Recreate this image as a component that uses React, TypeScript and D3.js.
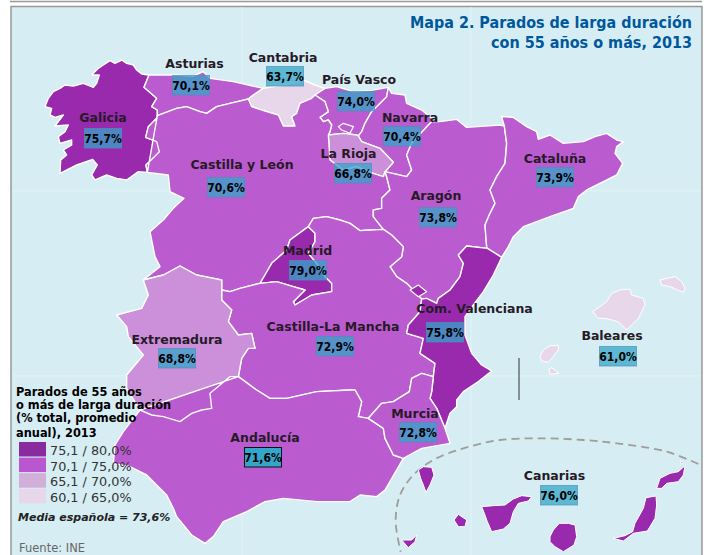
import React from "react";
import * as d3 from "d3";

// values (% parados de larga duración, 55+, 2013)
const regions = ["Galicia", "Asturias", "Cantabria", "País Vasco", "Navarra", "La Rioja", "Castilla y León", "Aragón", "Cataluña", "Madrid", "Castilla-La Mancha", "Extremadura", "Andalucía", "Com. Valenciana", "Murcia", "Baleares", "Canarias"];
const values = [75.7, 70.1, 63.7, 74.0, 70.4, 66.8, 70.6, 73.8, 73.9, 79.0, 72.9, 68.8, 71.6, 75.8, 72.8, 61.0, 76.0];
const legendLabels = ["75,1 / 80,0%", "70,1 / 75,0%", "65,1 / 70,0%", "60,1 / 65,0%"];
const legendTitle = ["Parados de 55 años", "o más de larga duración", "(% total, promedio", "anual), 2013"];

// outlines, in 1/3 px map units, shared borders kept as arcs
type Pt = [number, number];
const arcs: Record<string, Pt[]> = {
  galCoast: [[447,225],[425,222],[410,210],[400,195],[380,190],[365,180],[345,190],[330,182],[310,195],[295,205],[275,225],[298,225],[290,250],[280,262],[250,250],[220,258],[195,255],[180,265],[160,275],[145,295],[135,320],[155,325],[150,345],[165,352],[190,345],[175,365],[165,378],[205,375],[195,395],[175,410],[180,430],[215,420],[215,435],[190,450],[200,465],[182,480],[180,520],[230,495],[278,478],[292,495],[275,525],[285,540],[320,525],[350,535],[380,540],[415,515],[442,517]],
  galCyl: [[442,517],[438,495],[478,455],[470,425],[437,412],[445,380],[470,355],[472,347]],
  galAst: [[472,347],[472,330],[455,320],[470,295],[432,262],[447,225]],
  astCoast: [[447,225],[520,225],[580,228],[610,215],[630,235],[700,245],[790,265]],
  astCant: [[790,265],[760,285],[745,297]],
  astCyl: [[472,347],[530,325],[560,320],[600,335],[620,340],[650,320],[690,310],[745,297]],
  cantCoast: [[790,265],[850,255],[910,240],[945,255],[975,265]],
  cantPv: [[975,265],[945,285]],
  cantCyl: [[745,297],[755,320],[800,335],[835,345],[850,378],[885,378],[875,350],[890,340],[900,310],[935,295],[945,285]],
  pvCoast: [[975,265],[1010,260],[1060,275],[1110,272],[1165,262]],
  pvNav: [[1165,262],[1160,290],[1115,335],[1095,370],[1085,395],[1075,408]],
  pvCyl: [[945,285],[975,305],[985,335],[960,352],[970,365],[985,360],[995,375],[990,395],[985,405]],
  pvRio: [[985,405],[1030,400],[1070,405],[1075,408]],
  navNorth: [[1165,262],[1175,280],[1215,285],[1220,310],[1265,330],[1295,355],[1295,365]],
  navAra: [[1295,365],[1285,375],[1235,430],[1220,465],[1235,510],[1220,530],[1155,515]],
  navRio: [[1155,515],[1180,487],[1140,445],[1085,425],[1075,408]],
  rioCyl: [[1155,515],[1150,530],[1120,520],[1070,500],[1030,510],[990,480],[985,405]],
  araNorth: [[1295,365],[1320,365],[1370,358],[1400,382],[1500,375],[1513,378]],
  araCat: [[1513,378],[1520,430],[1515,490],[1490,530],[1470,570],[1485,610],[1470,640],[1455,675],[1460,740],[1462,745]],
  catCoast: [[1513,378],[1505,350],[1540,352],[1580,380],[1610,395],[1615,418],[1650,405],[1690,430],[1750,425],[1785,410],[1820,400],[1850,420],[1870,425],[1850,440],[1845,460],[1868,490],[1850,525],[1810,545],[1760,570],[1735,590],[1720,625],[1650,650],[1570,680],[1540,710],[1525,740],[1505,772]],
  catVal: [[1462,745],[1505,772]],
  araVal: [[1462,745],[1400,738],[1375,765],[1390,790],[1380,830],[1350,870],[1315,895],[1310,910],[1280,895],[1265,897]],
  araClm: [[1150,688],[1175,705],[1210,740],[1205,770],[1170,800],[1190,830],[1220,850],[1265,897]],
  araCyl: [[1155,515],[1160,530],[1170,570],[1145,595],[1145,625],[1120,630],[1120,650],[1150,688]],
  cylClm: [[1150,688],[1110,690],[1080,692],[1050,670],[1020,660],[980,650],[940,655],[925,680]],
  madClm: [[925,680],[945,700],[945,725],[925,760],[950,790],[975,830],[995,850],[995,875],[935,885],[885,915],[880,905],[915,870],[880,860],[830,845],[780,850]],
  madCyl: [[780,850],[795,825],[815,790],[860,750],[870,720],[925,680]],
  cylClmLow: [[780,850],[720,865],[690,875],[665,870]],
  cylWest: [[442,517],[505,525],[510,575],[552,595],[520,625],[490,660],[450,695],[465,770],[480,800],[430,840]],
  cylExt: [[430,840],[490,825],[540,798],[590,825],[630,833],[665,840],[665,870]],
  extClm: [[665,870],[665,900],[695,930],[685,965],[715,1005],[755,1000],[765,1045],[745,1045],[725,1075],[715,1130]],
  extWest: [[430,840],[445,885],[425,925],[350,945],[380,980],[385,1010],[430,1065],[380,1125],[380,1165],[420,1230]],
  extAnd: [[420,1230],[455,1245],[490,1250],[540,1265],[575,1240],[605,1230],[635,1225],[630,1180],[690,1130],[715,1130]],
  clmAnd: [[715,1130],[770,1170],[810,1195],[860,1195],[950,1175],[1050,1170],[1065,1170],[1085,1205],[1075,1250],[1105,1255]],
  clmMur: [[1105,1255],[1145,1210],[1180,1205],[1228,1175],[1235,1135],[1265,1120],[1300,1130]],
  clmVal: [[1265,897],[1260,935],[1225,975],[1220,1000],[1270,1015],[1260,1060],[1305,1090],[1300,1130]],
  valMur: [[1300,1130],[1295,1175],[1290,1195],[1310,1225],[1335,1285]],
  valCoast: [[1505,772],[1480,825],[1450,875],[1420,915],[1395,950],[1395,1005],[1415,1060],[1445,1095],[1475,1113],[1435,1145],[1390,1175],[1370,1200],[1370,1220],[1350,1240],[1335,1285]],
  murCoast: [[1335,1285],[1350,1330],[1265,1345],[1210,1375]],
  murAnd: [[1105,1255],[1150,1285],[1155,1315],[1180,1365],[1210,1375]],
  andCoast: [[420,1230],[370,1295],[345,1335],[340,1390],[390,1400],[440,1425],[500,1485],[520,1525],[530,1550],[575,1605],[615,1630],[640,1610],[670,1565],[740,1535],[795,1505],[850,1495],[950,1505],[1050,1505],[1080,1485],[1130,1490],[1155,1470],[1210,1375]],
};

// "-" means the arc is walked backwards
const ringsByRegion: Record<string, string[]> = {
  "Galicia": ["galCoast", "galCyl", "galAst"],
  "Asturias": ["astCoast", "astCant", "-astCyl", "galAst"],
  "Cantabria": ["cantCoast", "cantPv", "-cantCyl", "-astCant"],
  "País Vasco": ["pvCoast", "pvNav", "-pvRio", "-pvCyl", "-cantPv"],
  "Navarra": ["navNorth", "navAra", "navRio", "-pvNav"],
  "La Rioja": ["rioCyl", "pvRio", "-navRio"],
  "Castilla y León": ["cylWest", "cylExt", "-cylClmLow", "madCyl", "-cylClm", "-araCyl", "rioCyl", "-pvCyl", "-cantCyl", "-astCyl", "galCyl"],
  "Aragón": ["araNorth", "araCat", "araVal", "-araClm", "-araCyl", "-navAra"],
  "Cataluña": ["catCoast", "-catVal", "-araCat"],
  "Madrid": ["madClm", "madCyl"],
  "Castilla-La Mancha": ["-cylClm", "araClm", "clmVal", "-clmMur", "-clmAnd", "-extClm", "-cylClmLow", "-madClm"],
  "Extremadura": ["cylExt", "extClm", "-extAnd", "-extWest"],
  "Andalucía": ["-extAnd", "clmAnd", "murAnd", "-andCoast"],
  "Com. Valenciana": ["catVal", "valCoast", "-valMur", "-clmVal", "-araVal"],
  "Murcia": ["clmMur", "valMur", "murCoast", "-murAnd"],
};

const enclaves: { region: string; pts: Pt[] }[] = [
  { region: "Castilla y León", pts: [[1015,380],[1030,370],[1060,380],[1050,400],[1025,390]] }, // Treviño
  { region: "Com. Valenciana", pts: [[1230,870],[1255,855],[1280,875],[1255,890]] }, // Ademuz
];

// islands, traced with their own origin (shifted by islandOrigin)
const islandOrigin: Pt = [1050, 825];
const islands: { region: string; pts: Pt[] }[] = [
  { region: "Baleares", pts: [[728,110],[750,95],[770,80],[785,55],[810,45],[840,42],[845,60],[880,70],[885,90],[865,130],[830,165],[805,140],[765,130],[745,130]] },
  { region: "Baleares", pts: [[930,15],[975,5],[995,20],[1005,40],[1000,52],[960,35],[935,30]] },
  { region: "Baleares", pts: [[570,245],[580,225],[600,212],[625,212],[625,225],[605,250],[595,262],[575,258]] },
  { region: "Baleares", pts: [[597,282],[605,278],[627,295],[600,298]] },
  { region: "Canarias", pts: [[205,585],[220,575],[245,577],[252,600],[240,630],[228,652],[220,630],[212,610]] },
  { region: "Canarias", pts: [[312,735],[325,718],[350,735],[345,755],[325,755]] },
  { region: "Canarias", pts: [[155,795],[185,795],[200,780],[195,800],[175,818]] },
  { region: "Canarias", pts: [[395,695],[430,692],[465,690],[490,672],[515,662],[545,665],[535,678],[505,685],[490,710],[480,745],[460,762],[425,770],[412,740],[403,715]] },
  { region: "Canarias", pts: [[600,785],[610,765],[628,745],[655,745],[675,750],[680,785],[672,810],[640,830],[615,815],[600,800]] },
  { region: "Canarias", pts: [[790,790],[825,782],[848,770],[855,745],[880,700],[888,668],[918,663],[920,690],[915,730],[892,768],[850,775],[820,798]] },
  { region: "Canarias", pts: [[920,640],[930,610],[960,595],[985,590],[1005,572],[1000,600],[985,620],[950,625],[935,640]] },
  { region: "Canarias", pts: [[990,560],[997,560],[995,568]] },
];

const canaryArc: Pt[] = [[2095,1392],[2000,1355],[1850,1330],[1750,1320],[1630,1315],[1500,1320],[1390,1345],[1300,1380],[1240,1425],[1200,1485],[1187,1565],[1202,1655]];

// label anchors in page px
const labelPos: Record<string, Pt> = {
  "Galicia": [103,122], "Asturias": [194.5,68], "Cantabria": [283,62], "País Vasco": [359,84], "Navarra": [410,122],
  "La Rioja": [348.5,158], "Castilla y León": [242,169], "Aragón": [436,200], "Cataluña": [555,163], "Madrid": [307.5,255],
  "Castilla-La Mancha": [333,331], "Extremadura": [177,344], "Andalucía": [265,442], "Com. Valenciana": [474.5,313],
  "Murcia": [415,418], "Baleares": [612,340], "Canarias": [554.5,480],
};
const boxPos: Record<string, Pt> = {
  "Galicia": [84,128], "Asturias": [172,75], "Cantabria": [266,66], "País Vasco": [337,91], "Navarra": [383,126],
  "La Rioja": [334,163], "Castilla y León": [207,177], "Aragón": [419,207], "Cataluña": [536,167], "Madrid": [289,260],
  "Castilla-La Mancha": [316,336], "Extremadura": [158,348], "Andalucía": [244,447], "Com. Valenciana": [426,322],
  "Murcia": [399,422], "Baleares": [599,346], "Canarias": [540,485],
};

const color = d3.scaleThreshold<number, string>().domain([65, 70, 75]).range(["#e8d7ea", "#cb90d9", "#bb5bd0", "#992aad"]);
const legendColors = ["#8a2a9f", "#b857cf", "#d1afd9", "#e8d7ea"];

const walk = (name: string): Pt[] => name.startsWith("-") ? [...arcs[name.slice(1)]].reverse() : arcs[name];
const pathGen = d3.geoPath(d3.geoIdentity().scale(1 / 3) as any);
const polygon = (pts: Pt[]) => pathGen({ type: "Polygon", coordinates: [[...pts, pts[0]]] } as any) as string;
const shifted = (pts: Pt[]): Pt[] => pts.map(([x, y]) => [x + islandOrigin[0], y + islandOrigin[1]]);
const valueOf = (r: string) => values[regions.indexOf(r)];
const fmt = (v: number) => v.toFixed(1).replace(".", ",") + "%";

const arcLine = d3.line<Pt>().x(d => d[0] / 3).y(d => d[1] / 3).curve(d3.curveCatmullRom);
const font = "'DejaVu Sans', sans-serif";

export default function App() {
  return (
    <svg width={705} height={555} style={{ position: "absolute", left: 0, top: 0, background: "#fff" }} fontFamily={font}>
      <line x1={10} x2={702} y1={1.5} y2={1.5} stroke="#999" strokeWidth={1.5} />
      <rect x={11} y={6.5} width={691} height={560} fill="#d7edf4" stroke="#999" strokeWidth={1.5} />
      {/* faint graticule */}
      {[242, 471].map(x => <line key={x} x1={x} x2={x} y1={7} y2={555} stroke="#e0f2f6" />)}
      {[191, 376].map(y => <line key={y} x1={12} x2={701} y1={y} y2={y} stroke="#e0f2f6" />)}

      <path d={arcLine(canaryArc) as string} fill="none" stroke="#a09c98" strokeWidth={1.8} strokeDasharray="8 5" />

      {Object.entries(ringsByRegion).map(([r, parts]) => (
        <path key={r} d={polygon(parts.flatMap(walk))} fill={color(valueOf(r))} stroke="#fff" strokeWidth={1.4} strokeLinejoin="round" />
      ))}
      {enclaves.map((s, i) => (
        <path key={i} d={polygon(s.pts)} fill={color(valueOf(s.region))} stroke="#fff" strokeWidth={1.2} strokeLinejoin="round" />
      ))}
      {islands.map((s, i) => (
        <path key={i} d={polygon(shifted(s.pts))} fill={color(valueOf(s.region))} stroke="#fff" strokeWidth={1} strokeLinejoin="round" />
      ))}

      <line x1={519} x2={519} y1={358} y2={400} stroke="#333" strokeWidth={1} />

      {regions.map(r => {
        const [bx, by] = boxPos[r];
        const [lx, ly] = labelPos[r];
        const selected = r === "Andalucía";
        return (
          <g key={r}>
            <rect x={bx + 0.5} y={by + 0.5} width={37} height={19.5} fill="#34a6c9" fillOpacity={selected ? 1 : 0.75}
              stroke={selected ? "#111" : "#4f8fb8"} strokeOpacity={selected ? 1 : 0.7} />
            <text x={bx + 19} y={by + 14.5} textAnchor="middle" fontSize={12} fontWeight="bold" fontStretch="condensed" fill="#000">{fmt(valueOf(r))}</text>
            <text x={lx} y={ly} textAnchor="middle" fontSize={12.5} fontWeight="bold" fill="#261a26">{r}</text>
          </g>
        );
      })}

      <g textAnchor="end" fill="#00589c" fontSize={15.5} fontWeight="bold">
        <text x={692} y={27.5} textLength={282} lengthAdjust="spacingAndGlyphs">Mapa 2. Parados de larga duración</text>
        <text x={692} y={47.5} textLength={201} lengthAdjust="spacingAndGlyphs">con 55 años o más, 2013</text>
      </g>

      {legendTitle.map((t, i) => (
        <text key={t} x={16} y={[396, 409, 422, 437][i]} fontSize={11.4} fontWeight="bold" fill="#000">{t}</text>
      ))}
      {legendLabels.map((t, i) => (
        <g key={t}>
          <rect x={19} y={442 + i * 15.6} width={27} height={14.5} fill={legendColors[i]} />
          <text x={50} y={455 + i * 15.6} fontSize={12.8} fill="#333">{t}</text>
        </g>
      ))}
      <text x={18} y={521} fontSize={11} fontWeight="bold" fontStyle="italic" fill="#222">Media española = 73,6%</text>
      <text x={19} y={552} fontSize={11.5} fill="#666">Fuente: INE</text>
    </svg>
  );
}
